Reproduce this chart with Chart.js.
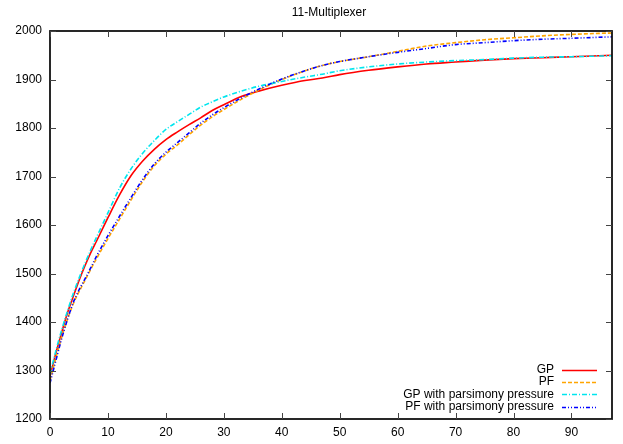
<!DOCTYPE html>
<html lang="en">
<head>
    <meta charset="UTF-8">
    <title>11-Multiplexer</title>
    <script src="https://cdn.jsdelivr.net/npm/chart.js"></script>
    <style>
        body { margin: 0; background: #fff; }
    </style>
</head>
<body>
    <canvas id="muxChart" width="623" height="444"></canvas>
    <script>
        const generations = [0, 1, 2, 3, 4, 5, 6, 7, 8, 10, 12, 14, 16, 18, 20, 22, 24, 26, 28, 30,
            33, 36, 40, 44, 47, 50, 55, 60, 65, 70, 75, 80, 85, 90, 97];

        const gp = [1288, 1335, 1378, 1418, 1452, 1485, 1515, 1542, 1566, 1615, 1662, 1702, 1732, 1756, 1776,
            1792, 1807, 1821, 1836, 1848, 1865, 1876, 1888, 1898, 1903, 1910, 1919, 1926, 1932, 1936,
            1940, 1943, 1945, 1947, 1950];
        const pf = [1280, 1325, 1368, 1405, 1437, 1462, 1485, 1508, 1530, 1572, 1612, 1652, 1690, 1722, 1746,
            1765, 1786, 1806, 1823, 1838, 1859, 1878, 1900, 1918, 1929, 1937, 1947, 1958, 1969, 1976,
            1982, 1986, 1990, 1993, 1996];
        const gpParsimony = [1292, 1340, 1383, 1422, 1458, 1490, 1520, 1548, 1574, 1625, 1676, 1716, 1748, 1774, 1797,
            1813, 1828, 1843, 1854, 1864, 1876, 1886, 1896, 1905, 1911, 1918, 1926, 1932, 1936, 1939,
            1941, 1944, 1946, 1947, 1949];
        const pfParsimony = [1274, 1320, 1365, 1405, 1440, 1466, 1488, 1511, 1535, 1578, 1618, 1657, 1694, 1726, 1750,
            1770, 1790, 1810, 1827, 1842, 1862, 1880, 1901, 1918, 1929, 1937, 1947, 1956, 1964, 1972,
            1976, 1980, 1983, 1985, 1988];

        const seriesNames = ['GP', 'PF', 'GP with parsimony pressure', 'PF with parsimony pressure'];
        const xTicks = [0, 10, 20, 30, 40, 50, 60, 70, 80, 90];
        const yTicks = [1200, 1300, 1400, 1500, 1600, 1700, 1800, 1900, 2000];

        const FONT = '"Liberation Sans", Arial, sans-serif';

        const styles = [
            { color: '#ff0000', width: 1.6, dash: [] },
            { color: '#ffa500', width: 1.6, dash: [4, 2] },
            { color: '#00e5ee', width: 1.6, dash: [5, 2, 1, 2] },
            { color: '#0000ff', width: 1.6, dash: [4, 2, 1, 2, 1, 2] }
        ];

        const toPoints = vals => generations.map((g, i) => ({ x: g, y: vals[i] }));
        const allSeries = [gp, pf, gpParsimony, pfParsimony];

        // gnuplot-style frame, inward ticks, title and key
        const gnuplotLook = {
            id: 'gnuplotLook',
            afterDraw(chart) {
                const ctx = chart.ctx;
                const a = chart.chartArea;
                const xs = chart.scales.x;
                const ys = chart.scales.y;
                ctx.save();
                ctx.strokeStyle = '#111';
                ctx.lineWidth = 1.8;
                ctx.setLineDash([]);
                ctx.strokeRect(a.left, a.top, a.right - a.left, a.bottom - a.top);

                ctx.lineWidth = 1;
                ctx.strokeStyle = '#444';
                ctx.beginPath();
                xTicks.forEach(v => {
                    const px = Math.round(xs.getPixelForValue(v)) + 0.5;
                    ctx.moveTo(px, a.bottom); ctx.lineTo(px, a.bottom - 6);
                    ctx.moveTo(px, a.top); ctx.lineTo(px, a.top + 6);
                });
                yTicks.forEach(v => {
                    const py = Math.round(ys.getPixelForValue(v)) + 0.5;
                    ctx.moveTo(a.left, py); ctx.lineTo(a.left + 6, py);
                    ctx.moveTo(a.right, py); ctx.lineTo(a.right - 6, py);
                });
                ctx.stroke();

                // title
                ctx.fillStyle = '#000';
                ctx.font = '12px ' + FONT;
                ctx.textAlign = 'center';
                ctx.textBaseline = 'middle';
                ctx.fillText('11-Multiplexer', (a.left + a.right) / 2 - 2, 13);

                // key
                ctx.textAlign = 'right';
                seriesNames.forEach((name, i) => {
                    const y = 369.5 + i * 12.4;
                    ctx.fillStyle = '#000';
                    ctx.fillText(name, 554, y);
                    ctx.strokeStyle = styles[i].color;
                    ctx.lineWidth = styles[i].width;
                    ctx.setLineDash(styles[i].dash);
                    ctx.beginPath();
                    ctx.moveTo(562, Math.round(y) + 0.5);
                    ctx.lineTo(597, Math.round(y) + 0.5);
                    ctx.stroke();
                });
                ctx.restore();
            }
        };

        new Chart(document.getElementById('muxChart'), {
            type: 'line',
            data: {
                datasets: allSeries.map((vals, i) => ({
                    label: seriesNames[i],
                    data: toPoints(vals),
                    borderColor: styles[i].color,
                    borderWidth: styles[i].width,
                    borderDash: styles[i].dash,
                    pointRadius: 0,
                    cubicInterpolationMode: 'monotone',
                    fill: false,
                    order: 4 - i
                }))
            },
            options: {
                responsive: false,
                animation: false,
                layout: { padding: { top: 31, right: 11, left: 0, bottom: 0 } },
                plugins: {
                    legend: { display: false },
                    title: { display: false },
                    tooltip: { enabled: false }
                },
                scales: {
                    x: {
                        type: 'linear',
                        min: 0,
                        max: 97,
                        afterBuildTicks: s => { s.ticks = xTicks.map(v => ({ value: v })); },
                        afterFit: s => { s.height = 25; },
                        grid: { display: false, drawTicks: false },
                        border: { display: false },
                        ticks: { color: '#000', padding: 6, maxRotation: 0, font: { family: FONT, size: 12 },
                            callback: v => String(v) }
                    },
                    y: {
                        type: 'linear',
                        min: 1200,
                        max: 2000,
                        afterBuildTicks: s => { s.ticks = yTicks.map(v => ({ value: v })); },
                        afterFit: s => { s.width = 50; },
                        grid: { display: false, drawTicks: false },
                        border: { display: false },
                        ticks: { color: '#000', padding: 8, font: { family: FONT, size: 12 },
                            callback: v => String(v) }
                    }
                }
            },
            plugins: [gnuplotLook]
        });
    </script>
</body>
</html>
